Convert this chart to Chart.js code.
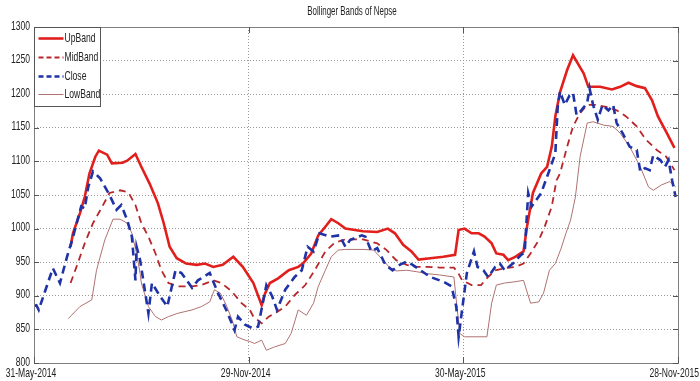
<!DOCTYPE html>
<html>
<head>
<meta charset="utf-8">
<script src="https://cdn.jsdelivr.net/npm/chart.js@4.4.1/dist/chart.umd.min.js"></script>
<style>
html,body{margin:0;padding:0;background:#fff;}
#wrap{position:relative;width:700px;height:381px;}
</style>
</head>
<body>
<div id="wrap"><canvas id="c" width="700" height="381"></canvas></div>
<script>
// ---- data (x = days since 31-May-2014) ----
const chartTitle = "Bollinger Bands of Nepse";
const tickDays = [0, 182, 364, 546];
const tickLabels = ["31-May-2014", "29-Nov-2014", "30-May-2015", "28-Nov-2015"];
const yTicks = [800, 850, 900, 950, 1000, 1050, 1100, 1150, 1200, 1250, 1300];

const upDays = [31,33,39,43,47,52,55,62,66,75,79,86,91,98,105,110,115,121,129,138,145,152,160,169,177,186,193,196,200,207,216,224,228,235,241,248,252,258,264,272,279,291,300,306,313,320,326,336,347,357,360,365,371,377,382,388,392,398,402,408,415,418,423,430,435,439,442,446,452,457,461,466,470,480,490,497,504,511,518,524,529,536,543];
const upVals = [973,993,1023,1047,1082,1107,1116,1110,1097,1098,1101,1111,1092,1067,1038,1008,973,956,948,946,948,943,946,958,943,919,886,904,919,926,938,943,948,963,990,1005,1014,1008,1000,998,996,995,1000,993,976,966,954,956,958,961,998,1000,993,993,988,978,963,961,953,958,966,1003,1053,1082,1092,1122,1167,1203,1236,1258,1246,1231,1211,1211,1207,1211,1217,1212,1209,1191,1167,1144,1120];

const midDays = [31,36,43,50,57,64,73,80,86,91,97,103,108,114,122,134,142,152,159,168,176,183,186,193,199,206,213,221,230,238,247,255,264,272,279,291,299,307,316,324,333,344,356,360,363,371,379,385,391,399,408,415,421,428,433,439,443,446,452,457,463,469,477,485,494,502,511,519,528,536,543];
const midVals = [919,943,978,1008,1030,1053,1057,1054,1035,1008,988,963,938,919,914,914,916,923,919,906,889,879,869,859,869,876,884,901,916,938,966,979,984,984,984,978,968,953,946,943,943,942,942,933,923,916,916,928,938,941,943,948,963,983,1003,1033,1072,1082,1122,1152,1172,1184,1184,1181,1176,1167,1152,1132,1117,1107,1087];

const closeDays = [0,2,4,16,22,28,33,40,43,46,50,56,64,70,74,79,83,86,87,90,97,100,107,113,120,125,134,139,149,156,163,170,173,179,185,190,197,202,206,213,221,227,232,237,242,251,259,264,268,278,281,286,291,298,304,310,316,321,336,347,354,358,360,367,373,376,381,385,391,395,399,406,413,416,419,422,426,430,436,442,444,446,450,454,457,460,464,469,471,474,478,482,487,491,494,499,505,511,514,518,522,525,531,535,538,541,544];
const closeVals = [885,886,879,941,919,958,987,1033,1030,1062,1085,1075,1050,1028,1035,1013,988,923,973,953,874,919,899,884,938,934,912,923,934,904,879,849,869,857,852,854,916,899,879,909,928,938,973,966,993,988,990,973,983,990,988,966,971,946,938,946,951,946,928,921,914,884,839,934,966,943,938,928,943,948,938,948,961,964,1053,1033,1043,1053,1082,1112,1181,1204,1184,1198,1202,1169,1176,1187,1209,1184,1162,1184,1176,1184,1157,1142,1122,1117,1085,1090,1087,1109,1102,1092,1102,1072,1047];

const lowDays = [29,39,49,53,60,67,73,79,83,87,90,91,97,103,108,114,122,134,142,149,153,158,163,168,172,179,183,187,193,197,204,213,218,224,231,237,241,247,252,258,264,279,288,296,302,307,316,324,333,344,356,358,361,365,374,384,388,392,399,408,415,421,428,432,437,442,447,451,455,459,463,469,474,483,491,497,505,514,521,525,532,539,544];
const lowVals = [866,884,894,938,983,1014,1014,1008,993,963,933,919,884,869,864,869,874,879,884,891,909,904,886,864,839,834,832,829,834,819,824,829,844,879,871,889,914,938,958,968,969,969,968,953,941,937,938,936,933,931,928,894,844,839,839,839,889,916,919,921,923,889,891,904,938,948,971,993,1013,1047,1107,1157,1159,1154,1152,1142,1122,1092,1062,1057,1065,1070,1062];

const seriesNames = ["UpBand", "MidBand", "Close", "LowBand"];

function pts(d, v) { return d.map((x, i) => ({x: x, y: v[i]})); }

const FONT = "'Liberation Sans', Arial, sans-serif";
const SX = 0.66; // condensed text, like the narrow face in the original

function narrowText(ctx, text, x, y, align, size) {
  ctx.save();
  ctx.font = size + "px " + FONT;
  ctx.textBaseline = 'middle';
  const w = ctx.measureText(text).width * SX;
  let left = x;
  if (align === 'center') left = x - w / 2;
  else if (align === 'right') left = x - w;
  if (left + w > 699) left = 699 - w;
  if (left < 1) left = 1;
  ctx.translate(left, y);
  ctx.scale(SX, 1);
  ctx.textAlign = 'left';
  ctx.fillText(text, 0, 0);
  ctx.restore();
}

const frame = {
  id: 'frame',
  afterDatasetsDraw(chart) {
    const ctx = chart.ctx, a = chart.chartArea;
    const xs = chart.scales.x, ys = chart.scales.y;
    ctx.save();
    ctx.strokeStyle = '#7f7f7f';
    ctx.lineWidth = 1;
    ctx.setLineDash([]);
    ctx.strokeRect(Math.round(a.left) + 0.5, Math.round(a.top) + 0.5, Math.round(a.right - a.left), Math.round(a.bottom - a.top));
    ctx.strokeStyle = '#555';
    ctx.beginPath();
    yTicks.forEach(v => {
      const y = Math.round(ys.getPixelForValue(v)) + 0.5;
      ctx.moveTo(a.left, y); ctx.lineTo(a.left + 5, y);
      ctx.moveTo(a.right, y); ctx.lineTo(a.right - 5, y);
    });
    tickDays.forEach(v => {
      const x = Math.round(xs.getPixelForValue(v)) + 0.5;
      ctx.moveTo(x, a.bottom); ctx.lineTo(x, a.bottom - 6);
      ctx.moveTo(x, a.top); ctx.lineTo(x, a.top + 6);
    });
    ctx.stroke();
    ctx.fillStyle = '#222';
    // title
    narrowText(ctx, chartTitle, 352, 12, 'center', 12);
    // axis labels
    yTicks.forEach(v => narrowText(ctx, String(v), a.left - 4, ys.getPixelForValue(v) - 1, 'right', 13));
    tickDays.forEach((v, i) => narrowText(ctx, tickLabels[i], xs.getPixelForValue(v) - 3, a.bottom + 10, 'center', 13));
    // legend
    const lx = Math.round(a.left) + 0.5, ly = Math.round(a.top) + 0.5;
    ctx.fillStyle = '#fff';
    ctx.fillRect(lx, ly, 66, 79);
    ctx.strokeStyle = '#555';
    ctx.strokeRect(lx, ly, 66, 79);
    const rows = [11, 30, 49, 67];
    chart.data.datasets.forEach((ds, i) => {
      const y = ly + rows[i];
      ctx.save();
      ctx.strokeStyle = ds.borderColor;
      ctx.lineWidth = ds.borderWidth;
      ctx.setLineDash(ds.borderDash && ds.borderDash.length ? [5, 3] : []);
      ctx.beginPath();
      ctx.moveTo(lx + 4, y); ctx.lineTo(lx + 29, y);
      ctx.stroke();
      ctx.restore();
      ctx.fillStyle = '#222';
      narrowText(ctx, ds.label, lx + 30, y, 'left', 13);
    });
    ctx.restore();
  }
};

new Chart(document.getElementById('c'), {
  type: 'line',
  data: {
    datasets: [
      {label: seriesNames[0], data: pts(upDays, upVals), borderColor: '#e11f1c', borderWidth: 2.6, order: 2},
      {label: seriesNames[1], data: pts(midDays, midVals), borderColor: '#b8262a', borderWidth: 1.8, borderDash: [7, 5], order: 3},
      {label: seriesNames[2], data: pts(closeDays, closeVals), borderColor: '#1f33a6', borderWidth: 2.6, borderDash: [8, 5], order: 1},
      {label: seriesNames[3], data: pts(lowDays, lowVals), borderColor: '#b07272', borderWidth: 1, order: 4}
    ]
  },
  options: {
    responsive: false,
    animation: false,
    events: [],
    layout: {padding: {top: 27, right: 22, left: 0, bottom: 0}},
    elements: {point: {radius: 0}, line: {tension: 0, fill: false}},
    plugins: {legend: {display: false}, title: {display: false}, tooltip: {enabled: false}},
    scales: {
      x: {
        type: 'linear', min: 0, max: 546,
        afterBuildTicks: (s) => { s.ticks = tickDays.map(v => ({value: v})); },
        afterFit: (s) => { s.height = 18; s.paddingLeft = 0; s.paddingRight = 0; },
        border: {display: false, dash: [1, 2]},
        grid: {color: '#9a9a9a', lineWidth: 1, drawTicks: false},
        ticks: {display: false, autoSkip: false, maxRotation: 0}
      },
      y: {
        type: 'linear', min: 800, max: 1300,
        afterBuildTicks: (s) => { s.ticks = yTicks.map(v => ({value: v})); },
        afterFit: (s) => { s.width = 34; s.paddingTop = 0; s.paddingBottom = 0; },
        border: {display: false, dash: [1, 2]},
        grid: {color: '#9a9a9a', lineWidth: 1, drawTicks: false},
        ticks: {display: false}
      }
    }
  },
  plugins: [frame]
});
</script>
</body>
</html>
